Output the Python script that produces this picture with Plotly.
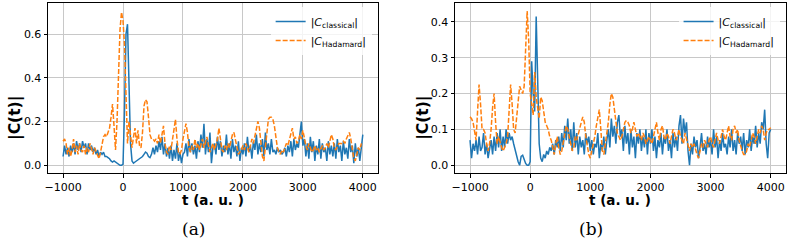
import plotly.graph_objects as go

# time grid (a.u.)
t = list(range(-1000, 4001, 25))

# panel (a)
a_classical = [
    0.04,0.09,0.05,0.08,0.04,0.09,0.06,0.10,0.05,0.11,0.07,0.10,0.06,0.11,0.08,0.10,0.05,0.10,0.07,0.09,0.06,0.08,0.05,
    0.07,0.04,0.06,0.05,0.06,0.04,
    0.04,0.035,0.03,0.02,0.015,0.02,0.015,0.01,
    0.005,0.0,0.0,0.005,
    0.25,0.60,0.645,0.35,0.10,0.02,
    0.01,0.015,0.02,0.025,0.03,0.035,0.04,0.05,0.06,
    0.055,0.04,0.035,0.05,
    0.08,0.05,0.09,0.06,0.11,0.07,0.13,0.05,0.10,0.04,0.08,0.03,0.09,0.02,0.07,0.03,0.10,0.02,0.06,0.01,0.05,
    0.06,0.10,0.04,0.12,0.06,0.10,0.05,0.09,0.03,0.11,0.06,0.14,0.08,0.19,0.05,0.12,0.06,0.15,0.01,0.08,
    0.10,0.05,0.13,0.07,0.11,0.04,0.09,0.06,0.14,0.05,0.10,0.03,0.12,0.06,0.09,0.04,0.11,0.02,0.08,0.05,
    0.10,0.04,0.13,0.06,0.09,0.03,0.11,0.07,0.14,0.05,0.10,0.06,0.12,0.04,0.15,0.07,0.10,0.05,0.12,0.06,
    0.07,0.05,0.08,0.06,0.07,0.05,0.06,0.08,0.04,0.09,0.06,0.11,0.04,0.12,0.07,0.10,0.08,0.14,0.20,0.09,
    0.12,0.04,0.10,0.03,0.13,0.06,0.11,0.02,0.09,0.05,0.12,0.03,0.10,0.06,0.08,0.02,0.11,0.05,0.09,0.04,
    0.10,0.03,0.12,0.06,0.09,0.02,0.11,0.05,0.08,0.03,0.12,0.06,0.09,0.01,0.10,0.04,0.08,0.02,0.09,0.14,
]
a_hadamard = [
    0.11,0.12,0.10,0.05,0.08,0.04,0.07,0.12,0.06,0.09,0.05,0.10,0.07,0.06,0.09,0.05,0.08,0.06,0.10,0.07,0.05,0.08,0.06,
    0.04,0.03,0.06,0.10,0.13,0.14,0.13,0.15,0.17,0.22,0.28,0.18,0.07,
    0.20,0.45,0.62,0.70,0.66,0.55,0.30,0.10,0.20,0.15,0.08,0.13,0.17,0.10,0.16,0.09,0.08,0.15,0.27,0.30,0.29,0.22,0.14,
    0.12,0.12,0.11,0.12,0.10,0.14,0.10,0.15,0.18,0.10,0.06,0.05,0.09,0.07,0.12,0.17,0.21,0.12,0.06,0.05,0.07,
    0.12,0.16,0.19,0.15,0.08,0.06,0.09,0.07,0.12,0.08,0.10,0.07,0.09,0.12,0.08,0.10,0.13,0.09,0.06,0.08,
    0.10,0.07,0.09,0.12,0.17,0.12,0.07,0.06,0.09,0.07,0.10,0.08,0.12,0.14,0.15,0.12,0.08,0.05,0.06,0.07,
    0.09,0.07,0.10,0.08,0.06,0.09,0.12,0.10,0.14,0.18,0.20,0.17,0.10,0.04,0.02,0.08,0.17,0.21,0.22,0.22,
    0.21,0.18,0.13,0.08,0.06,0.05,0.07,0.06,0.08,0.10,0.09,0.12,0.14,0.17,0.12,0.13,0.10,0.11,0.14,0.12,
    0.16,0.12,0.09,0.07,0.10,0.08,0.06,0.07,0.09,0.07,0.08,0.06,0.08,0.09,0.07,0.08,0.10,0.08,0.11,0.14,
    0.12,0.08,0.07,0.09,0.10,0.10,0.10,0.11,0.10,0.12,0.14,0.15,0.12,0.07,0.03,0.02,0.06,0.08,0.07,0.10,
]

# panel (b)
b_classical = [
    0.07,0.02,0.06,0.04,0.07,0.03,0.08,0.04,0.05,0.09,0.03,0.06,0.02,0.05,0.07,0.03,0.08,0.04,0.09,0.05,0.10,0.04,0.08,0.05,0.10,0.06,0.09,0.07,
    0.08,0.06,0.04,0.03,0.01,0.0,0.025,0.028,0.015,0.005,0.0,0.0,0.01,
    0.29,0.20,0.15,0.415,0.22,0.06,0.02,0.01,0.03,0.02,0.04,0.03,0.05,0.04,0.06,0.03,0.07,0.05,
    0.08,0.04,0.09,0.05,0.11,0.07,0.13,0.06,0.10,0.04,0.12,0.05,0.09,0.03,0.08,0.05,0.07,0.03,0.09,0.06,0.08,0.04,
    0.07,0.03,0.06,0.05,0.09,0.02,0.06,0.04,0.08,0.03,0.07,0.10,0.05,0.13,0.08,0.11,0.06,0.12,0.14,0.08,
    0.10,0.04,0.11,0.06,0.09,0.03,0.10,0.05,0.08,0.02,0.09,0.06,0.10,0.04,0.08,0.05,0.10,0.03,0.09,0.06,
    0.10,0.04,0.08,0.02,0.07,0.05,0.09,0.03,0.08,0.06,0.10,0.04,0.07,0.02,0.09,0.05,0.08,0.04,0.11,0.14,
    0.06,0.13,0.09,0.12,0.04,0.00,0.06,0.03,0.08,0.05,0.07,0.02,0.05,0.09,0.04,0.06,0.03,0.08,0.05,0.07,
    0.03,0.10,0.05,0.08,0.02,0.07,0.04,0.09,0.05,0.06,0.03,0.08,0.05,0.10,0.04,0.07,0.03,0.09,0.06,0.08,
    0.04,0.09,0.03,0.07,0.05,0.10,0.04,0.08,0.06,0.11,0.05,0.09,0.06,0.12,0.10,0.155,0.06,0.02,0.09,0.10,
]
b_hadamard = [
    0.135,0.13,0.12,0.10,0.07,0.15,0.225,0.17,0.10,0.10,0.09,0.06,0.04,0.06,0.10,0.16,0.20,0.12,0.06,0.08,
    0.06,0.05,0.04,0.05,0.06,0.08,0.15,0.225,0.17,0.10,0.09,0.13,0.18,0.22,0.21,0.20,0.22,0.33,0.43,0.35,
    0.20,0.17,0.14,0.26,0.19,0.16,0.13,0.19,0.18,0.15,0.12,0.11,0.10,0.08,0.07,0.05,0.03,0.06,0.08,0.05,
    0.03,0.04,0.06,0.09,0.11,0.10,0.08,0.06,0.04,0.05,0.08,0.07,0.09,0.11,0.12,0.135,0.12,0.08,0.05,0.03,0.02,
    0.04,0.06,0.08,0.11,0.14,0.155,0.10,0.04,0.03,0.06,0.09,0.12,0.17,0.20,0.19,0.15,0.11,0.09,0.08,0.07,
    0.08,0.10,0.12,0.125,0.12,0.11,0.09,0.10,0.12,0.10,0.08,0.09,0.08,0.07,0.09,0.08,0.06,0.07,0.08,0.07,
    0.06,0.08,0.10,0.12,0.09,0.07,0.10,0.11,0.08,0.07,0.09,0.08,0.06,0.08,0.10,0.09,0.07,0.08,0.10,0.08,
    0.07,0.06,0.09,0.07,0.05,0.04,0.06,0.05,0.06,0.04,0.03,0.02,0.04,0.06,0.05,0.07,0.06,0.05,0.07,0.08,
    0.06,0.05,0.07,0.09,0.07,0.06,0.08,0.10,0.08,0.07,0.09,0.11,0.08,0.07,0.10,0.11,0.09,0.10,0.07,0.05,
    0.04,0.03,0.03,0.04,0.06,0.05,0.07,0.09,0.08,0.06,0.08,0.10,0.09,0.11,0.10,0.07,0.09,0.10,0.10,0.105,
]

for name, s in [("a_cl", a_classical), ("a_h", a_hadamard), ("b_cl", b_classical), ("b_h", b_hadamard)]:
    if len(s) != len(t):
        print("length mismatch", name, len(s), len(t))

W, H = 790, 243
BLUE = "#1f77b4"
ORANGE = "#ff7f0e"
LBL_CL = "|<i>C</i><sub>classical</sub>|"
LBL_H = "|<i>C</i><sub>Hadamard</sub>|"

def px(x):
    return x / W

def py(y):
    return 1 - y / H

fig = go.Figure()
fig.add_trace(go.Scatter(x=t, y=a_classical, mode="lines", name=LBL_CL,
                         line=dict(color=BLUE, width=1.5), xaxis="x", yaxis="y", legend="legend"))
fig.add_trace(go.Scatter(x=t, y=a_hadamard, mode="lines", name=LBL_H,
                         line=dict(color=ORANGE, width=1.5, dash="5px,2px"), xaxis="x", yaxis="y", legend="legend"))
fig.add_trace(go.Scatter(x=t, y=b_classical, mode="lines", name=LBL_CL,
                         line=dict(color=BLUE, width=1.5), xaxis="x2", yaxis="y2", legend="legend2"))
fig.add_trace(go.Scatter(x=t, y=b_hadamard, mode="lines", name=LBL_H,
                         line=dict(color=ORANGE, width=1.5, dash="5px,2px"), xaxis="x2", yaxis="y2", legend="legend2"))

axis_common = dict(
    showline=True, linecolor="black", linewidth=1, mirror=True,
    ticks="outside", ticklen=3.5, tickwidth=0.8, tickcolor="black",
    showgrid=True, gridcolor="#c8c8c8", gridwidth=1, zeroline=False,
    tickfont=dict(family="DejaVu Sans", size=11, color="black"),
)
xticks = [-1000, 0, 1000, 2000, 3000, 4000]

fig.update_layout(
    width=W, height=H,
    margin=dict(l=0, r=0, t=0, b=0),
    paper_bgcolor="white", plot_bgcolor="white",
    showlegend=True,
    xaxis=dict(domain=[px(44.3), px(375.7)], range=[-1250, 4250], tickvals=xticks, anchor="y", **axis_common),
    yaxis=dict(domain=[py(173), py(3.3)], range=[-0.0353, 0.7403], tickvals=[0, 0.2, 0.4, 0.6], tickformat=".1f", anchor="x", **axis_common),
    xaxis2=dict(domain=[px(453.3), px(785.7)], range=[-1250, 4250], tickvals=xticks, anchor="y2", **axis_common),
    yaxis2=dict(domain=[py(173), py(3.3)], range=[-0.0215, 0.4515], tickvals=[0, 0.1, 0.2, 0.3, 0.4], tickformat=".1f", anchor="x2", **axis_common),
    legend=dict(x=px(268), y=py(7), xanchor="left", yanchor="top", bgcolor="rgba(255,255,255,0.8)",
                font=dict(family="DejaVu Sans", size=11, color="black"), tracegroupgap=0),
    legend2=dict(x=px(678), y=py(7), xanchor="left", yanchor="top", bgcolor="rgba(255,255,255,0.8)",
                 font=dict(family="DejaVu Sans", size=11, color="black"), tracegroupgap=0),
)

annotations = [
    dict(text="<b>t (a. u. )</b>", x=px(210), y=py(200), font=dict(family="DejaVu Sans", size=13.5, color="black")),
    dict(text="<b>t (a. u. )</b>", x=px(619.5), y=py(200), font=dict(family="DejaVu Sans", size=13.5, color="black")),
    dict(text="<b>|C(t)|</b>", x=px(11), y=py(118), textangle=-90, font=dict(family="DejaVu Sans", size=15.5, color="black")),
    dict(text="<b>|C(t)|</b>", x=px(421), y=py(118), textangle=-90, font=dict(family="DejaVu Sans", size=15.5, color="black")),
    dict(text="(a)", x=px(190), y=py(229), font=dict(family="DejaVu Serif", size=17, color="black")),
    dict(text="(b)", x=px(590), y=py(229), font=dict(family="DejaVu Serif", size=17, color="black")),
]
for a in annotations:
    a.update(xref="paper", yref="paper", xanchor="center", yanchor="middle", showarrow=False)
fig.update_layout(annotations=annotations)

fig.write_html("out.html")
